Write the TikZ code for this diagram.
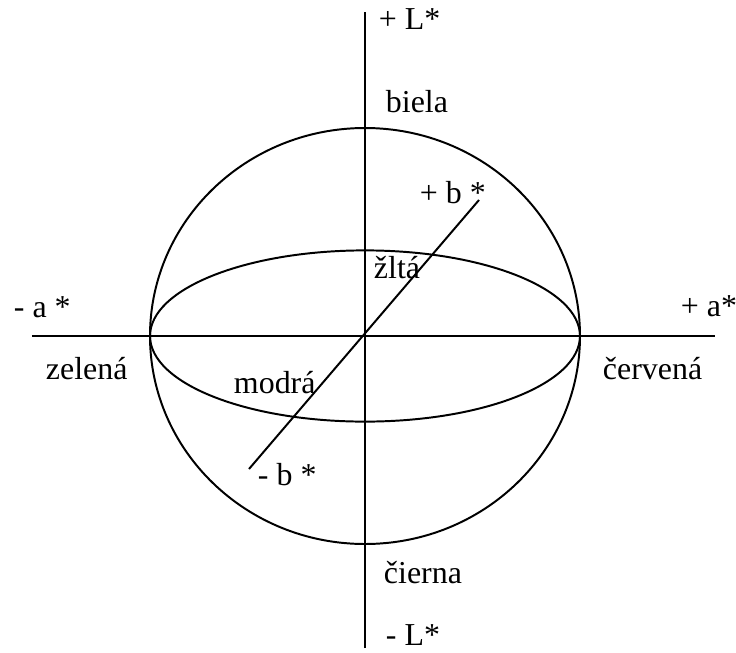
\documentclass[tikz,border=0pt]{standalone}
\usepackage{fontspec}
\setmainfont{Liberation Serif}
\usetikzlibrary{positioning}

\begin{document}
\begin{tikzpicture}[line width=1.4pt,
  lab/.style={anchor=base west, inner sep=0pt, font=\fontsize{22.7}{27}\selectfont}]
  \useasboundingbox (-9.125,-7.9) rectangle (9.275,8.4);
  % Axes L*, a*, b*
  \coordinate (Ltop) at (0,8.1);
  \coordinate (Lbot) at (0,-7.8);
  \coordinate (aneg) at (-8.325,0);
  \coordinate (apos) at (8.75,0);
  \coordinate (bpos) at (2.85,3.4);
  \coordinate (bneg) at (-2.9,-3.325);
  \draw (Lbot) -- (Ltop);
  \draw (aneg) -- (apos);
  \draw (bneg) -- (bpos);
  % Sphere and equator
  \draw (0,0) ellipse [x radius=5.375, y radius=5.2];
  \draw (0,0) ellipse [x radius=5.375, y radius=2.14];
  % Axis ends
  \node[lab] (lplus) at (0.325,7.675) {+ L*};
  \node[lab] (lminus) at (0.5,-7.725) {- L*};
  \node[lab] (aminus) at (-8.8,0.475) {- a *};
  \node[lab] (aplus) at (7.875,0.5) {+ a*};
  \node[lab] (bplus) at (1.35,3.325) {+ b *};
  \node[lab] (bminus) at (-2.7,-3.725) {- b *};
  % Colours
  \node[lab] (biela) at (0.5,5.6) {biela};
  \node[lab] (cierna) at (0.45,-6.175) {čierna};
  \node[lab] (zlta) at (0.2,1.45) {žltá};
  \node[lab] (modra) at (-3.3,-1.425) {modrá};
  \node[lab] (zelena) at (-8.0,-1.075) {zelená};
  \node[lab] (cervena) at (5.925,-1.075) {červená};
\end{tikzpicture}
\end{document}
